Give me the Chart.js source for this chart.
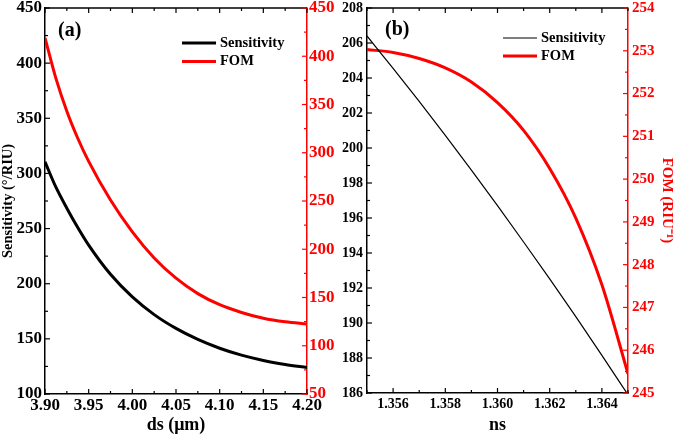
<!DOCTYPE html>
<html>
<head>
<meta charset="utf-8">
<script src="https://cdn.jsdelivr.net/npm/chart.js@4.4.1/dist/chart.umd.min.js"></script>
<style>
  body { margin: 0; background: #fff; }
  .panel { position: absolute; top: 0; width: 338px; height: 436px; }
</style>
</head>
<body>
<div class="panel" style="left:0"><canvas id="chartA" width="338" height="436"></canvas></div>
<div class="panel" style="left:338px"><canvas id="chartB" width="338" height="436"></canvas></div>
<script>
// panel (a): against ds (um)
const dsValues = [3.900, 3.9125, 3.925, 3.9375, 3.950, 3.975, 4.000, 4.025, 4.050, 4.075, 4.100, 4.125, 4.150, 4.175, 4.200];
const sensA = [310.5, 287.5, 268.5, 251, 235, 208.5, 188, 172, 159.5, 149.5, 141.5, 135.2, 130.4, 126.8, 124];
const fomA = [419, 377, 343, 315, 291, 251, 218, 191, 170, 154, 142.5, 134.5, 128.5, 124.8, 122.5];

// panel (b): against ns
const nsValues = [1.355, 1.356, 1.357, 1.358, 1.359, 1.360, 1.361, 1.362, 1.363, 1.364, 1.365];
const sensB = [206.4, 204.55, 202.66, 200.72, 198.73, 196.71, 194.63, 192.52, 190.36, 188.15, 185.9];
const fomB = [253.03, 252.96, 252.82, 252.6, 252.27, 251.79, 251.14, 250.25, 249.09, 247.53, 245.45];

const seriesNames = ['Sensitivity', 'FOM'];

// axis bounds [min, max, minor step]
const xAxisA = [3.9, 4.2, 0.025];
const yAxisA = [100, 450, 25];
const y1AxisA = [50, 450, 25];
const xAxisB = [1.355, 1.365, 0.001];
const yAxisB = [186, 208, 1];
const y1AxisB = [245, 254, 0.5];

const RED = '#ff0000';
const SERIF = "'Liberation Serif', 'Times New Roman', serif";

const toPoints = (xs, ys) => xs.map((x, i) => ({ x: x, y: ys[i] }));
const bold = size => ({ family: SERIF, size: size, weight: 'bold' });

// every second minor step gets a label
const everyOther = (step, digits) => v => (Math.round(v / step) % 2 === 0 ? Number(v).toFixed(digits) : '');

// frame: top line, inward ticks, panel letter and legend
const framePlugin = {
  id: 'frame',
  afterDraw(chart, args, opts) {
    const { ctx, chartArea: a, scales } = chart;
    const seg = (x1, y1, x2, y2) => { ctx.beginPath(); ctx.moveTo(x1, y1); ctx.lineTo(x2, y2); ctx.stroke(); };
    ctx.save();
    ctx.lineWidth = 1.5;
    ctx.strokeStyle = '#000';
    seg(a.left, a.top, a.right, a.top);
    ctx.lineWidth = 1.2;
    scales.x.ticks.forEach(t => {
      const p = scales.x.getPixelForValue(t.value);
      const len = t.label ? 5 : 3;
      seg(p, a.bottom, p, a.bottom - len);
      seg(p, a.top, p, a.top + len);
    });
    scales.y.ticks.forEach(t => {
      const p = scales.y.getPixelForValue(t.value);
      seg(a.left, p, a.left + (t.label ? 5 : 3), p);
    });
    ctx.strokeStyle = RED;
    scales.y1.ticks.forEach(t => {
      const p = scales.y1.getPixelForValue(t.value);
      seg(a.right, p, a.right - (t.label ? 5 : 3), p);
    });

    ctx.fillStyle = '#000';
    ctx.textBaseline = 'middle';
    ctx.font = 'bold 20px ' + SERIF;
    ctx.fillText(opts.letter, a.left + opts.letterAt[0], a.top + opts.letterAt[1]);

    ctx.font = 'bold 14.5px ' + SERIF;
    chart.data.datasets.forEach((d, i) => {
      const y = a.top + opts.legendAt[1] + i * opts.rowGap;
      const x = a.left + opts.legendAt[0];
      ctx.strokeStyle = d.borderColor;
      ctx.lineWidth = d.borderWidth;
      seg(x, y, x + 34, y);
      ctx.fillText(d.label, x + 38, y);
    });
    ctx.restore();
  }
};

// fixed axis width, and no extra room above/below for the end labels
const fixWidth = w => sc => { sc.width = w; sc.paddingTop = 0; sc.paddingBottom = 0; };

function makeChart(id, xs, s, f, axes, look) {
  const tickFont = look.tickFont;
  return new Chart(document.getElementById(id), {
    type: 'line',
    data: {
      datasets: [
        { label: seriesNames[0], data: toPoints(xs, s), borderColor: '#000', borderWidth: look.sensWidth,
          pointRadius: 0, cubicInterpolationMode: 'monotone', yAxisID: 'y' },
        { label: seriesNames[1], data: toPoints(xs, f), borderColor: RED, borderWidth: 3,
          pointRadius: 0, cubicInterpolationMode: 'monotone', yAxisID: 'y1' }
      ]
    },
    options: {
      responsive: false,
      animation: false,
      layout: { padding: { top: 8 } },
      plugins: {
        legend: { display: false },
        tooltip: { enabled: false },
        frame: look.frame
      },
      scales: {
        x: {
          type: 'linear', position: 'bottom',
          min: axes.x[0], max: axes.x[1],
          afterFit: sc => { sc.height = look.xHeight; },
          grid: { drawOnChartArea: false, drawTicks: false },
          border: { color: '#000', width: 1.5 },
          ticks: { stepSize: axes.x[2], autoSkip: false, maxRotation: 0, padding: look.xPad, color: '#000',
            font: bold(tickFont[0]), callback: everyOther(axes.x[2], look.xDigits) },
          title: { display: true, text: look.xTitle, color: '#000', font: bold(18), padding: 0 }
        },
        y: {
          position: 'left',
          min: axes.y[0], max: axes.y[1],
          afterFit: fixWidth(look.yWidth),
          grid: { drawOnChartArea: false, drawTicks: false },
          border: { color: '#000', width: 1.5 },
          ticks: { stepSize: axes.y[2], autoSkip: false, padding: look.yPad, color: '#000',
            font: bold(tickFont[1]), callback: everyOther(axes.y[2], 0) },
          title: { display: !!look.yTitle, text: look.yTitle || '', color: '#000', font: bold(14.5), padding: 0 }
        },
        y1: {
          position: 'right',
          min: axes.y1[0], max: axes.y1[1],
          afterFit: fixWidth(look.y1Width),
          grid: { drawOnChartArea: false, drawTicks: false },
          border: { color: RED, width: 1.5 },
          ticks: { stepSize: axes.y1[2], autoSkip: false, padding: look.y1Pad, color: RED,
            font: bold(tickFont[2]), callback: everyOther(axes.y1[2], 0) },
          title: { display: !!look.y1Title, text: look.y1Title || '', color: RED, font: bold(15), padding: 0 }
        }
      }
    },
    plugins: [framePlugin]
  });
}

makeChart('chartA', dsValues, sensA, fomA, { x: xAxisA, y: yAxisA, y1: y1AxisA }, {
  tickFont: [17, 17, 17], sensWidth: 3, xDigits: 2,
  xTitle: 'ds (μm)', yTitle: 'Sensitivity (°/RIU)',
  xHeight: 42, yWidth: 45, y1Width: 31, xPad: 1, yPad: 3, y1Pad: 2,
  frame: { letter: '(a)', letterAt: [13, 23], legendAt: [137, 35], rowGap: 18.5 }
});

makeChart('chartB', nsValues, sensB, fomB, { x: xAxisB, y: yAxisB, y1: y1AxisB }, {
  tickFont: [14, 14, 15], sensWidth: 1.2, xDigits: 3,
  xTitle: 'ns', y1Title: 'FOM (RIU⁻¹)',
  xHeight: 43, yWidth: 29, y1Width: 48, xPad: 3, yPad: 4, y1Pad: 4,
  frame: { letter: '(b)', letterAt: [18, 22], legendAt: [136, 30], rowGap: 18 }
});
</script>
</body>
</html>
